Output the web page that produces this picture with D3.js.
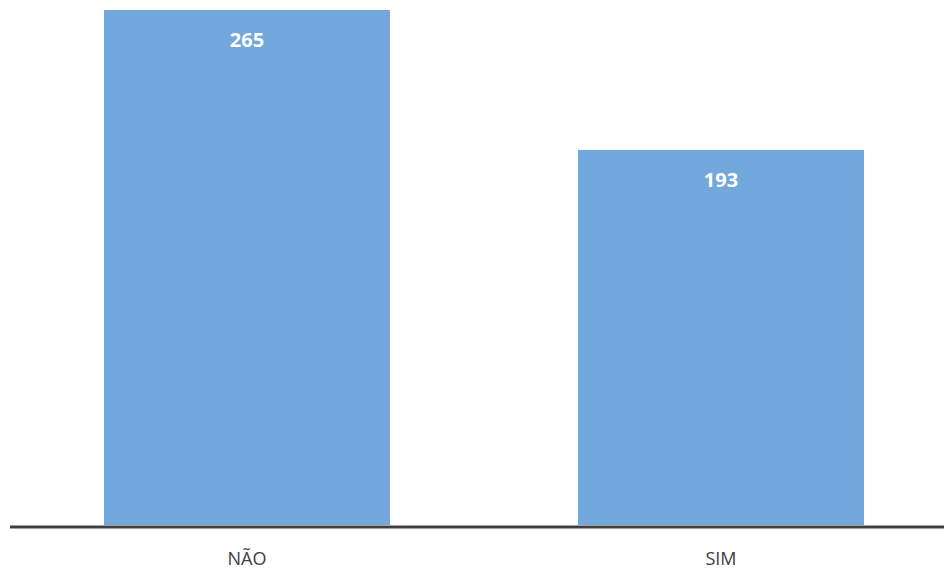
<!DOCTYPE html>
<html><head><meta charset="utf-8">
<script src="https://cdn.jsdelivr.net/npm/d3@7"></script>
<style>body{margin:0;background:#fff}svg{display:block}</style>
</head><body>
<svg id="c" width="944" height="571"></svg>
<script>
const categories = ["NÃO", "SIM"];
const values = [265, 193];

const svg = d3.select("#c");
const x = d3.scaleBand().domain(categories).range([10, 958]).paddingInner(0.3966).paddingOuter(0.1983);
const y = d3.scaleLinear().domain([0, 265]).range([525, 10]);

svg.selectAll("rect.bar").data(categories).join("rect")
  .attr("class", "bar")
  .attr("x", d => x(d)).attr("width", x.bandwidth())
  .attr("y", (d, i) => y(values[i])).attr("height", (d, i) => y(0) - y(values[i]))
  .attr("fill", "#72a8db");

svg.append("line").attr("x1", 10).attr("x2", 944).attr("y1", 527).attr("y2", 527)
  .attr("stroke", "#404040").attr("stroke-width", 3);

svg.selectAll("text.val").data(categories).join("text")
  .attr("class", "val")
  .attr("x", d => x(d) + x.bandwidth() / 2)
  .attr("y", (d, i) => y(values[i]) + 37)
  .attr("text-anchor", "middle")
  .attr("font-family", "Open Sans, sans-serif").attr("font-weight", "bold").attr("font-size", 20)
  .attr("fill", "#fff")
  .text((d, i) => values[i]);

svg.selectAll("text.cat").data(categories).join("text")
  .attr("class", "cat")
  .attr("x", d => x(d) + x.bandwidth() / 2)
  .attr("y", 565)
  .attr("text-anchor", "middle")
  .attr("font-family", "Open Sans, sans-serif").attr("font-size", 18)
  .attr("fill", "#404040")
  .text(d => d);
</script>
</body></html>
